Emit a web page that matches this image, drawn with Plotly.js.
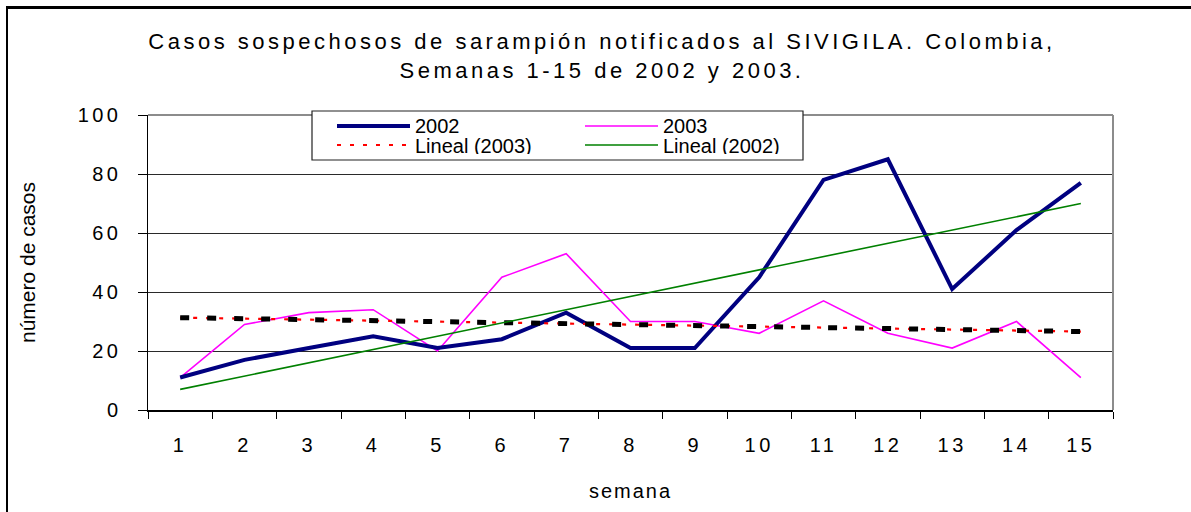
<!DOCTYPE html>
<html>
<head>
<meta charset="utf-8">
<script src="https://cdn.plot.ly/plotly-3.0.1.min.js"></script>
<style>
  html, body { margin: 0; padding: 0; background: #fff; overflow: hidden; }
  #wrap { position: relative; width: 1191px; height: 512px; }
  #chart { position: absolute; left: 0; top: 0; width: 1191px; height: 512px; }
  #frameTop { position: absolute; left: 7px; top: 6px; width: 1184px; height: 0;
              border-top: 3px solid #000; z-index: 10; pointer-events: none; }
  #frameLeft { position: absolute; left: 6px; top: 6px; width: 0; height: 506px;
               border-left: 2px solid #000; z-index: 10; pointer-events: none; }
  .gtitle { letter-spacing: 3.5px; }
  .xtitle { letter-spacing: 2px; }
  .xtick text, .ytick text { letter-spacing: 3.5px; }
</style>
</head>
<body>
<div id="wrap"><div id="chart"></div><div id="frameTop"></div><div id="frameLeft"></div></div>
<script>
// ---- data ----
const semanas = ['1','2','3','4','5','6','7','8','9','10','11','12','13','14','15'];
const casos2002 = [11, 17, 21, 25, 21, 24, 33, 21, 21, 45, 78, 85, 41, 61, 77];
const casos2003 = [11, 29, 33, 34, 20, 45, 53, 30, 30, 26, 37, 26, 21, 30, 11];
// trend lines as drawn in the picture (start / end week)
const trendWeeks = ['1', '15'];
const lineal2002 = [7, 70];
const lineal2003 = [31.3, 26.6];
const yTicks = [0, 20, 40, 60, 80, 100];

// ---- layout geometry (pixels of the 1191x512 page) ----
const W = 1191, H = 512;
const L = 148, R = 1113, T = 115, B = 410;
const px2x = p => (p - L) / (R - L);
const px2y = p => (B - p) / (B - T);
const FONT = 'Liberation Sans, Arial, sans-serif';

const traces = [
  { x: semanas, y: casos2003, name: '2003', mode: 'lines',
    line: { color: '#FF00FF', width: 1.6 } },
  { x: semanas, y: casos2002, name: '2002', mode: 'lines',
    line: { color: '#000080', width: 4 } },
  { x: trendWeeks, y: lineal2003, name: 'Lineal (2003)', mode: 'lines',
    line: { color: '#FF0000', width: 2.2, dash: '4px,9px' } },
  { x: trendWeeks, y: lineal2003, name: 'Lineal (2003)', mode: 'lines', showlegend: false,
    line: { color: '#000000', width: 5, dash: '9px,18px' } },
  { x: trendWeeks, y: lineal2002, name: 'Lineal (2002)', mode: 'lines',
    line: { color: '#008000', width: 1.6 } }
];

// manual legend (two columns, tight rows as in the reference)
const legendItems = [
  { t: traces[1], col: 0, row: 0 },
  { t: traces[0], col: 1, row: 0 },
  { t: traces[2], col: 0, row: 1 },
  { t: traces[4], col: 1, row: 1 }
];
const colX = [337, 585], rowY = [126, 145], sampleW = 73;

const shapes = [
  // plot area border (grey top/right)
  { type: 'line', xref: 'paper', yref: 'paper', x0: 0, x1: 1, y0: 1, y1: 1,
    line: { color: '#8c8c8c', width: 2 } },
  { type: 'line', xref: 'paper', yref: 'paper', x0: 1, x1: 1, y0: 0, y1: 1,
    line: { color: '#8c8c8c', width: 2 } },
  // legend box
  { type: 'rect', xref: 'paper', yref: 'paper',
    x0: px2x(312), x1: px2x(803), y0: px2y(160), y1: px2y(111),
    fillcolor: '#fff', line: { color: '#222', width: 1.2 }, layer: 'above' }
];
const annotations = [];
legendItems.forEach(it => {
  const x0 = colX[it.col], y = rowY[it.row];
  shapes.push({ type: 'line', xref: 'paper', yref: 'paper',
    x0: px2x(x0), x1: px2x(x0 + sampleW), y0: px2y(y), y1: px2y(y),
    line: { color: it.t.line.color, width: it.t.line.width, dash: it.t.line.dash || 'solid' },
    layer: 'above' });
  annotations.push({ xref: 'paper', yref: 'paper', x: px2x(x0 + sampleW + 4), y: px2y(y),
    xanchor: 'left', yanchor: 'middle', showarrow: false, text: it.t.name,
    height: 17, valign: 'middle', borderpad: 0,
    font: { family: FONT, size: 20, color: '#000' } });
});

const layout = {
  width: W, height: H,
  margin: { l: L, r: W - R, t: T, b: H - B, pad: 0 },
  paper_bgcolor: 'rgba(0,0,0,0)', plot_bgcolor: '#fff',
  showlegend: false,
  font: { family: FONT, color: '#000' },
  title: {
    text: 'Casos sospechosos de sarampión notificados al SIVIGILA. Colombia,<br>Semanas 1-15 de 2002 y 2003.',
    font: { family: FONT, size: 22, color: '#000' },
    xref: 'container', yref: 'container', x: 602 / W, xanchor: 'center',
    y: 1 - 49 / H, yanchor: 'top'
  },
  xaxis: {
    type: 'category', tickson: 'boundaries',
    range: [-0.5, 14.5], autorange: false,
    showgrid: false, zeroline: false,
    showline: true, linecolor: '#000', linewidth: 1.5,
    ticks: 'outside', ticklen: 7, tickcolor: '#000', tickwidth: 1,
    tickfont: { family: FONT, size: 20, color: '#000' },
    ticklabelstandoff: 16,
    title: { text: 'semana', font: { family: FONT, size: 20, color: '#000' }, standoff: 29 },
    automargin: false, fixedrange: true
  },
  yaxis: {
    range: [0, 100], autorange: false,
    tickvals: yTicks, ticktext: yTicks.map(String),
    showgrid: true, gridcolor: '#2a2a2a', gridwidth: 1,
    zeroline: false,
    showline: true, linecolor: '#000', linewidth: 1.5,
    ticks: 'outside', ticklen: 9, tickcolor: '#000', tickwidth: 1,
    tickfont: { family: FONT, size: 20, color: '#000' },
    ticklabelstandoff: 12,
    title: { text: 'número de casos', font: { family: FONT, size: 21, color: '#000' }, standoff: 36 },
    automargin: false, fixedrange: true
  },
  shapes: shapes,
  annotations: annotations
};

Plotly.newPlot('chart', traces, layout, { staticPlot: true, displayModeBar: false });
</script>
</body>
</html>
